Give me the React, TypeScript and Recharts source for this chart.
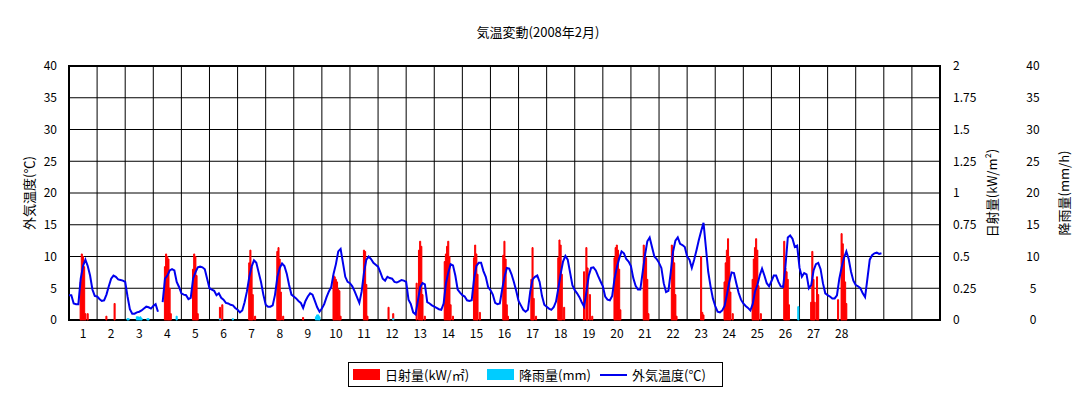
import { ComposedChart, Bar, Line, XAxis, YAxis, CartesianGrid, Legend, ReferenceArea } from 'recharts';

const FONT = '"Noto Sans CJK JP", "Noto Sans", sans-serif';

// day labels on the x axis (the grid has 31 day columns)
const days = [1, 2, 3, 4, 5, 6, 7, 8, 9, 10, 11, 12, 13, 14, 15, 16, 17, 18, 19, 20, 21, 22, 23, 24, 25, 26, 27, 28];
const gridDays = [0, 1, 2, 3, 4, 5, 6, 7, 8, 9, 10, 11, 12, 13, 14, 15, 16, 17, 18, 19, 20, 21, 22, 23, 24, 25, 26, 27, 28, 29, 30, 31];

const tempTicks = [0, 5, 10, 15, 20, 25, 30, 35, 40];
const solarTicks = [0, 0.25, 0.5, 0.75, 1, 1.25, 1.5, 1.75, 2];
const legendOrder = ['日射量(kW/㎡)', '降雨量(mm)', '外気温度(℃)'];

// outside temperature, every 2 hours (0h, 2h ... 22h), one row per day
const temperature: (number | null)[][] = [
  [3.9, 3.9, 2.6, 2.5, 2.5, 6.5, 8.5, 9.5, 8.5, 7.0, 4.8, 3.8],
  [3.7, 3.3, 3.0, 3.1, 4.0, 5.3, 6.5, 7.0, 6.8, 6.4, 6.3, 6.2],
  [6.0, 3.7, 1.7, 1.0, 1.0, 1.2, 1.3, 1.5, 1.8, 2.1, 2.0, 1.8],
  [2.2, 2.5, 1.3, null, 2.8, 6.5, 7.0, 7.8, 8.0, 7.8, 6.0, 5.2],
  [4.2, 4.0, 3.9, 3.3, 3.5, 6.5, 7.5, 8.3, 8.4, 8.3, 8.0, 6.5],
  [5.0, 4.8, 4.6, 3.9, 4.2, 3.5, 3.2, 2.7, 2.6, 2.4, 2.3, 1.9],
  [1.6, 1.2, 1.5, 2.8, 4.5, 6.8, 8.4, 9.4, 9.0, 7.5, 6.0, 4.0],
  [2.4, 2.1, 2.1, 2.3, 4.0, 6.8, 8.2, 8.9, 8.5, 7.3, 5.5, 4.0],
  [3.7, 3.4, 3.0, 2.7, 1.9, 3.0, 3.7, 4.2, 4.0, 3.0, 2.0, 1.3],
  [1.8, 2.5, 3.6, 4.5, 5.2, 7.3, 8.8, 10.8, 11.2, 9.0, 6.8, 6.0],
  [5.8, 5.3, 4.5, 3.6, 2.7, 4.5, 7.5, 9.5, 10.0, 9.6, 9.0, 8.7],
  [8.4, 7.5, 6.5, 6.2, 6.8, 6.6, 6.5, 6.0, 5.9, 6.1, 6.3, 6.2],
  [6.0, 3.2, 2.5, 1.2, 0.9, 3.0, 5.2, 5.8, 5.6, 2.8, 2.6, 2.3],
  [2.1, 1.9, 1.7, 1.6, 2.6, 5.8, 7.5, 8.8, 8.6, 7.0, 4.8, 4.3],
  [3.9, 3.7, 3.1, 3.0, 3.1, 6.5, 8.5, 9.0, 9.0, 7.7, 6.8, 5.2],
  [4.7, 4.0, 2.7, 2.5, 2.6, 4.8, 6.8, 8.2, 8.1, 7.2, 6.0, 4.6],
  [3.0, 2.3, 1.6, 1.3, 1.6, 4.5, 6.4, 6.8, 7.0, 6.0, 3.8, 2.4],
  [2.1, 1.8, 1.6, 2.0, 2.9, 5.0, 7.3, 9.2, 10.1, 9.5, 7.5, 5.5],
  [4.7, 4.2, 3.6, 2.8, 2.1, 4.5, 7.0, 8.2, 8.3, 7.8, 6.9, 6.1],
  [5.3, 3.7, 3.2, 3.1, 3.8, 6.5, 8.3, 9.7, 10.8, 10.5, 9.6, 9.2],
  [8.5, 6.6, 5.4, 4.8, 4.8, 7.5, 10.2, 12.4, 13.0, 11.5, 10.0, 9.6],
  [9.0, 8.2, 5.8, 4.4, 4.6, 7.5, 10.8, 12.5, 13.0, 12.0, 11.8, 11.5],
  [10.0, 9.5, 8.2, 9.5, 11.0, 12.6, 14.0, 15.3, 11.5, 7.6, 5.3, 3.4],
  [2.2, 1.3, 1.2, 1.5, 2.2, 4.0, 6.0, 7.5, 7.4, 5.8, 4.3, 3.2],
  [2.6, 2.2, 1.9, 1.5, 2.5, 4.5, 5.5, 7.0, 8.1, 7.0, 5.8, 5.3],
  [6.1, 7.0, 7.0, 6.0, 5.3, 5.2, 8.5, 13.0, 13.3, 12.8, 11.5, 11.7],
  [8.2, 6.8, 7.4, 7.2, 5.0, 5.5, 7.8, 8.8, 9.0, 8.0, 5.8, 4.2],
  [3.9, 3.7, 3.4, 3.4, 3.9, 6.5, 8.3, 9.8, 10.8, 9.6, 7.6, 6.2],
  [5.5, 5.3, 5.0, 4.2, 3.6, 6.5, 9.5, 10.2, 10.5, 10.6, 10.4, 10.5],
];

// solar radiation kW/m2, [hour, value] per day
const solar: [number, number][][] = [
  [[10, 0.3], [11, 0.52], [12, 0.5], [13, 0.42], [14, 0.05], [16, 0.05]],
  [[8, 0.03], [15, 0.13]],
  [],
  [[10, 0.42], [11, 0.52], [12, 0.5], [13, 0.48], [14, 0.25], [15, 0.05]],
  [[10, 0.4], [11, 0.52], [12, 0.5], [13, 0.35], [14, 0.05]],
  [[9, 0.1], [11, 0.12]],
  [[10, 0.45], [11, 0.55], [12, 0.42], [13, 0.2], [15, 0.03]],
  [[10, 0.54], [11, 0.57], [12, 0.48], [13, 0.22], [15, 0.03]],
  [[8, 0.02]],
  [[10, 0.35], [11, 0.34], [12, 0.32], [13, 0.3], [14, 0.24], [15, 0.23], [16, 0.03]],
  [[12, 0.55], [13, 0.54], [14, 0.28], [15, 0.03]],
  [[9, 0.1], [13, 0.05]],
  [[9, 0.29], [11, 0.55], [12, 0.62], [13, 0.58], [14, 0.2], [16, 0.03]],
  [[9, 0.46], [10, 0.52], [11, 0.58], [12, 0.62], [13, 0.5], [14, 0.12], [16, 0.03]],
  [[10, 0.49], [11, 0.59], [12, 0.52], [13, 0.36], [15, 0.06]],
  [[11, 0.51], [12, 0.62], [13, 0.48], [14, 0.12], [15, 0.03]],
  [[11, 0.32], [12, 0.57], [13, 0.17], [15, 0.03]],
  [[10, 0.49], [11, 0.63], [12, 0.59], [13, 0.36], [15, 0.1]],
  [[8, 0.38], [10, 0.57], [11, 0.41], [13, 0.2], [15, 0.03]],
  [[10, 0.49], [11, 0.57], [12, 0.59], [13, 0.55], [14, 0.4], [15, 0.08]],
  [[11, 0.59], [12, 0.53], [13, 0.49], [14, 0.32], [15, 0.05]],
  [[11, 0.59], [12, 0.57], [13, 0.45], [14, 0.2], [15, 0.03]],
  [[12, 0.5], [13, 0.06], [14, 0.04]],
  [[8, 0.3], [9, 0.45], [10, 0.55], [11, 0.64], [12, 0.5], [13, 0.22], [15, 0.05]],
  [[8, 0.32], [9, 0.48], [10, 0.57], [11, 0.64], [12, 0.55], [13, 0.27], [15, 0.05]],
  [[11, 0.62], [12, 0.41], [13, 0.38], [14, 0.32], [15, 0.12]],
  [[10, 0.14], [11, 0.54], [12, 0.32], [13, 0.14], [15, 0.34], [16, 0.2]],
  [[9, 0.16], [12, 0.68], [13, 0.6], [14, 0.51], [15, 0.3], [16, 0.13]],
  [],
];

// rainfall mm/h, [day, hour, value]
const rain: [number, number, number][] = [
  [3, 2, 0.2], [3, 3, 0.2], [3, 10, 0.5], [3, 11, 0.5], [3, 12, 0.4], [3, 13, 0.5], [3, 14, 0.3],
  [3, 19, 0.2], [3, 20, 0.2], [4, 20, 0.6], [6, 9, 0.2], [6, 20, 0.2],
  [9, 19, 0.5], [9, 20, 0.8], [9, 21, 0.8], [9, 22, 0.5], [12, 13, 0.2], [26, 23, 2.1],
];

const tempRows = temperature.flatMap((vals, d) => vals.map((t, i) => ({ x: d + (i * 2) / 24, temp: t })));

const hourRows: { x: number; solar: number | null; rain: number | null }[] = [];
for (let h = 0; h < temperature.length * 24; h++) hourRows.push({ x: h / 24, solar: null, rain: null });
solar.forEach((list, d) => list.forEach(([h, v]) => { hourRows[d * 24 + h].solar = v; }));
rain.forEach(([d, h, v]) => { hourRows[(d - 1) * 24 + h].rain = v; });

const vLabel = (text: string, x: number) => (props: any) => {
  const vb = props.viewBox;
  const cy = vb.y + vb.height / 2;
  return (
    <text x={x} y={cy} transform={`rotate(-90 ${x} ${cy})`} textAnchor="middle" dominantBaseline="central"
      fontSize={13} fill="#000" fontFamily={FONT}>{text}</text>
  );
};

const renderLegend = (props: any) => {
  const widths = [134, 113, 118];
  const items = [...(props.payload || [])].sort((a: any, b: any) => legendOrder.indexOf(a.value) - legendOrder.indexOf(b.value));
  return (
    <div style={{ border: '1px solid #000', height: 25, boxSizing: 'border-box', display: 'flex', alignItems: 'center',
      paddingLeft: 4, fontSize: 13, fontFamily: FONT, color: '#000', background: '#fff' }}>
      {items.map((entry: any, i: number) => (
        <span key={entry.value} style={{ display: 'flex', alignItems: 'center', width: widths[i] }}>
          {entry.type === 'line'
            ? <span style={{ width: 27, height: 2, background: entry.color }} />
            : <span style={{ width: 27, height: 11, background: entry.color }} />}
          <span style={{ marginLeft: 5, whiteSpace: 'nowrap' }}>{entry.value}</span>
        </span>
      ))}
    </div>
  );
};

const tickStyle = { fontSize: 12, fill: '#000', fontFamily: FONT };

export default function App() {
  return (
    <div style={{ position: 'absolute', left: 0, top: 0, width: 1082, height: 397, background: '#fff', fontFamily: FONT }}>
      <div style={{ position: 'absolute', left: 0, top: 22, width: 1076, textAlign: 'center', fontSize: 13, color: '#000' }}>
        気温変動(2008年2月)
      </div>
      <ComposedChart width={1082} height={397} data={hourRows} margin={{ top: 66, right: 0, bottom: 47, left: 0 }}>
        <XAxis xAxisId="grid" dataKey="x" type="number" domain={[0, 31]} ticks={gridDays} hide />
        <XAxis xAxisId="day" dataKey="x" type="number" domain={[0, 31]} ticks={days.map((d) => d - 0.5)}
          tickFormatter={(v) => String(v + 0.5)} interval={0} axisLine={false} tickLine={false} tickMargin={3}
          tick={tickStyle} height={30} />
        <YAxis yAxisId="l1" domain={[0, 40]} ticks={tempTicks} width={69} axisLine={false} tickLine={false}
          tickMargin={6} tick={tickStyle} interval={0} label={{ content: vLabel('外気温度(℃)', 28) }} />
        <YAxis yAxisId="r1" orientation="right" domain={[0, 2]} ticks={solarTicks} width={80} axisLine={false}
          tickLine={false} tickMargin={7} tick={tickStyle} interval={0} label={{ content: vLabel('日射量(kW/m²)', 991) }} />
        <YAxis yAxisId="r2" orientation="right" domain={[0, 40]} ticks={tempTicks} width={62} axisLine={false}
          tickLine={false} tickMargin={7} tick={{ ...tickStyle, textAnchor: 'middle' }} interval={0}
          label={{ content: vLabel('降雨量(mm/h)', 1063) }} />
        <CartesianGrid xAxisId="grid" yAxisId="l1" stroke="#000" strokeWidth={1} />
        <Bar xAxisId="day" yAxisId="r1" dataKey="solar" name="日射量(kW/㎡)" fill="#ff0000" stroke="#ff0000"
          strokeWidth={1} barSize={2} isAnimationActive={false} />
        <Bar xAxisId="grid" yAxisId="r2" dataKey="rain" name="降雨量(mm)" fill="#00ccff" stroke="#00ccff"
          strokeWidth={1} barSize={2} isAnimationActive={false} />
        <Line xAxisId="day" yAxisId="l1" data={tempRows} dataKey="temp" name="外気温度(℃)" type="linear"
          stroke="#0000ee" strokeWidth={2} dot={false} activeDot={false} isAnimationActive={false} />
        <ReferenceArea xAxisId="day" yAxisId="l1" x1={0} x2={31} y1={0} y2={40} fill="none" stroke="#000"
          strokeWidth={2} ifOverflow="visible" />
        <Legend layout="horizontal" verticalAlign="middle" align="center" content={renderLegend}
          wrapperStyle={{ left: 348, top: 362, width: 375, height: 25 }} />
      </ComposedChart>
    </div>
  );
}
